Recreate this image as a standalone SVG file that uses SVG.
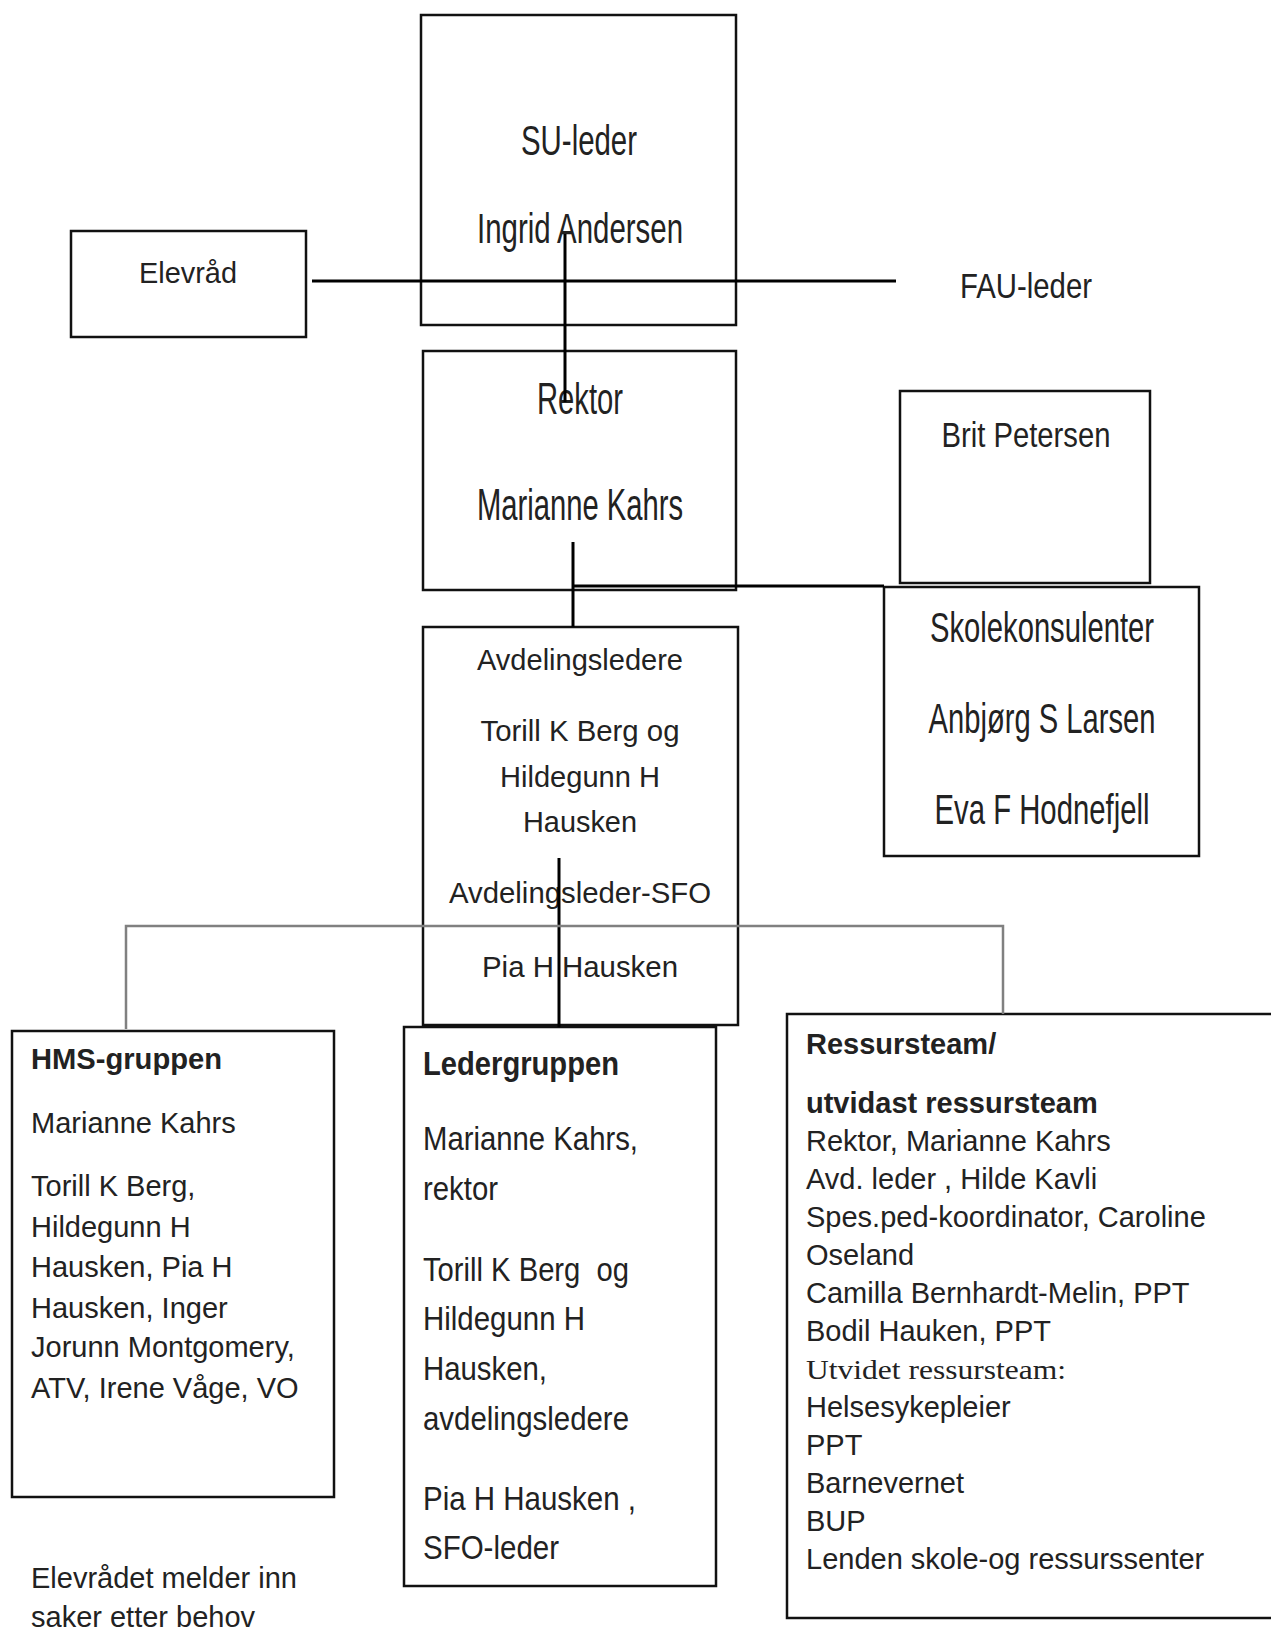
<svg xmlns="http://www.w3.org/2000/svg" width="1271" height="1630" viewBox="0 0 1271 1630">
<style>
.box{fill:#fff;stroke:#111;stroke-width:2.5}
.t{font-family:"Liberation Sans",Arial,sans-serif;fill:#222}
.c{text-anchor:middle}
.b{font-weight:bold}
.big{font-size:42px}
.huge{font-size:45px}
.mid{font-size:35px}
.avd{font-size:30px}
.body{font-size:29px}
.lg{font-size:33px}
.ser{font-family:"Liberation Serif","Times New Roman",serif;font-size:27px;fill:#222}
.ln{fill:none;stroke:#000;stroke-width:3}
.gr{fill:none;stroke:#808080;stroke-width:2.5}
</style>
<rect width="1271" height="1630" fill="#fff"/>
<g id="su-leder">
<rect class="box" x="421" y="15" width="315" height="310"/>
<text class="t c big" x="579" y="155" textLength="116" lengthAdjust="spacingAndGlyphs">SU-leder</text>
<text class="t c big" x="580" y="243" textLength="206" lengthAdjust="spacingAndGlyphs">Ingrid Andersen</text>
</g>
<g id="elevrad">
<rect class="box" x="71" y="231" width="235" height="106"/>
<text class="t c body" x="188" y="283" textLength="98" lengthAdjust="spacingAndGlyphs">Elevråd</text>
</g>
<g id="fau-leder">
<text class="t c mid" x="1026" y="298" textLength="132" lengthAdjust="spacingAndGlyphs">FAU-leder</text>
</g>
<g id="rektor">
<rect class="box" x="423" y="351" width="313" height="239"/>
<text class="t c huge" x="580" y="414" textLength="86" lengthAdjust="spacingAndGlyphs">Rektor</text>
<text class="t c huge" x="580" y="520" textLength="206" lengthAdjust="spacingAndGlyphs">Marianne Kahrs</text>
</g>
<g id="brit-petersen">
<rect class="box" x="900" y="391" width="250" height="192"/>
<text class="t c mid" x="1026" y="447" textLength="169" lengthAdjust="spacingAndGlyphs">Brit Petersen</text>
</g>
<g id="skolekonsulenter">
<rect class="box" x="884" y="587" width="315" height="269"/>
<text class="t c big" x="1042" y="642" textLength="224" lengthAdjust="spacingAndGlyphs">Skolekonsulenter</text>
<text class="t c big" x="1042" y="733" textLength="227" lengthAdjust="spacingAndGlyphs">Anbjørg S Larsen</text>
<text class="t c big" x="1042" y="824" textLength="215" lengthAdjust="spacingAndGlyphs">Eva F Hodnefjell</text>
</g>
<g id="avdelingsledere">
<rect class="box" x="423" y="627" width="315" height="398"/>
<text class="t c avd" x="580" y="670" textLength="206" lengthAdjust="spacingAndGlyphs">Avdelingsledere</text>
<text class="t c avd" x="580" y="741" textLength="199" lengthAdjust="spacingAndGlyphs">Torill K Berg og</text>
<text class="t c avd" x="580" y="787" textLength="160" lengthAdjust="spacingAndGlyphs">Hildegunn H</text>
<text class="t c avd" x="580" y="832" textLength="114" lengthAdjust="spacingAndGlyphs">Hausken</text>
<text class="t c avd" x="580" y="903" textLength="262" lengthAdjust="spacingAndGlyphs">Avdelingsleder-SFO</text>
<text class="t c avd" x="580" y="977" textLength="196" lengthAdjust="spacingAndGlyphs">Pia H Hausken</text>
</g>
<g id="hms-gruppen">
<rect class="box" x="12" y="1031" width="322" height="466"/>
<text class="t b body" x="31" y="1069" textLength="191" lengthAdjust="spacingAndGlyphs">HMS-gruppen</text>
<text class="t body" x="31" y="1133">Marianne Kahrs</text>
<text class="t body" x="31" y="1196">Torill K Berg,</text>
<text class="t body" x="31" y="1237">Hildegunn H</text>
<text class="t body" x="31" y="1277">Hausken, Pia H</text>
<text class="t body" x="31" y="1318">Hausken, Inger</text>
<text class="t body" x="31" y="1357">Jorunn Montgomery,</text>
<text class="t body" x="31" y="1398">ATV, Irene Våge, VO</text>
</g>
<g id="ledergruppen">
<rect class="box" x="404" y="1027" width="312" height="559"/>
<text class="t b lg" x="423" y="1075" textLength="196" lengthAdjust="spacingAndGlyphs">Ledergruppen</text>
<text class="t lg" x="423" y="1150" textLength="215" lengthAdjust="spacingAndGlyphs">Marianne Kahrs,</text>
<text class="t lg" x="423" y="1200" textLength="75" lengthAdjust="spacingAndGlyphs">rektor</text>
<text class="t lg" x="423" y="1281" textLength="206" lengthAdjust="spacingAndGlyphs" style="white-space:pre">Torill K Berg  og</text>
<text class="t lg" x="423" y="1330" textLength="162" lengthAdjust="spacingAndGlyphs">Hildegunn H</text>
<text class="t lg" x="423" y="1380" textLength="124" lengthAdjust="spacingAndGlyphs">Hausken,</text>
<text class="t lg" x="423" y="1430" textLength="206" lengthAdjust="spacingAndGlyphs">avdelingsledere</text>
<text class="t lg" x="423" y="1510" textLength="213" lengthAdjust="spacingAndGlyphs" style="white-space:pre">Pia H Hausken ,</text>
<text class="t lg" x="423" y="1559" textLength="136" lengthAdjust="spacingAndGlyphs">SFO-leder</text>
</g>
<g id="ressursteam">
<rect class="box" x="787" y="1014" width="500" height="604"/>
<text class="t b body" x="806" y="1054">Ressursteam/</text>
<text class="t b body" x="806" y="1113">utvidast ressursteam</text>
<text class="t body" x="806" y="1151">Rektor, Marianne Kahrs</text>
<text class="t body" x="806" y="1189" style="white-space:pre">Avd. leder , Hilde Kavli</text>
<text class="t body" x="806" y="1227">Spes.ped-koordinator, Caroline</text>
<text class="t body" x="806" y="1265">Oseland</text>
<text class="t body" x="806" y="1303">Camilla Bernhardt-Melin, PPT</text>
<text class="t body" x="806" y="1341">Bodil Hauken, PPT</text>
<text class="ser" x="806" y="1379" textLength="260" lengthAdjust="spacingAndGlyphs">Utvidet ressursteam:</text>
<text class="t body" x="806" y="1417">Helsesykepleier</text>
<text class="t body" x="806" y="1455">PPT</text>
<text class="t body" x="806" y="1493">Barnevernet</text>
<text class="t body" x="806" y="1531">BUP</text>
<text class="t body" x="806" y="1569">Lenden skole-og ressurssenter</text>
</g>
<g id="note">
<text class="t body" x="31" y="1588">Elevrådet melder inn</text>
<text class="t body" x="31" y="1627">saker etter behov</text>
</g>
<g id="connectors">
<path class="ln" d="M312,281 H896"/>
<path class="ln" d="M565,234 V402"/>
<path class="ln" d="M573,542 V627"/>
<path class="ln" d="M573,586 H884"/>
<path class="ln" d="M559,858 V1027"/>
<path class="gr" d="M126,1029 V926 H1003 V1014"/>
</g>
</svg>
